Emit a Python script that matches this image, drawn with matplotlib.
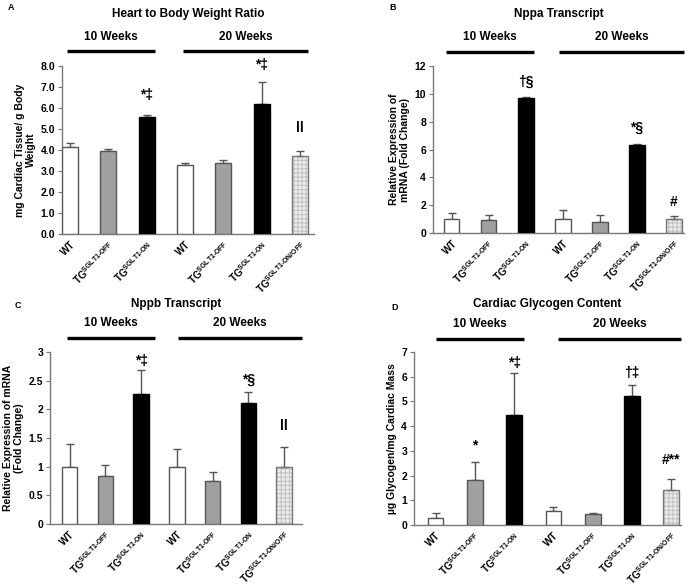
import matplotlib
matplotlib.use("Agg")
import matplotlib.pyplot as plt
import matplotlib.transforms as mtransforms
from matplotlib.ticker import FixedLocator, FixedFormatter

plt.rcParams['font.family'] = ['Liberation Sans', 'DejaVu Sans']
plt.rcParams['font.weight'] = 'bold'
plt.rcParams['mathtext.fontset'] = 'custom'
plt.rcParams['mathtext.rm'] = 'Liberation Sans:bold'
plt.rcParams['mathtext.bf'] = 'Liberation Sans:bold'
plt.rcParams['mathtext.it'] = 'Liberation Sans:bold'
plt.rcParams['hatch.linewidth'] = 0.8

categories = ["WT", r"TG$^{\text{SGLT1-OFF}}$", r"TG$^{\text{SGLT1-ON}}$",
              "WT", r"TG$^{\text{SGLT1-OFF}}$", r"TG$^{\text{SGLT1-ON}}$",
              r"TG$^{\text{SGLT1-ON/OFF}}$"]
kinds = ["wt", "off", "on", "wt", "off", "on", "onoff"]

hw_mean = [4.16, 3.97, 5.55, 3.30, 3.40, 6.20, 3.73]
hw_err = [0.15, 0.10, 0.13, 0.10, 0.10, 1.04, 0.23]
nppa_mean = [1.03, 0.90, 9.70, 1.03, 0.80, 6.32, 1.03]
nppa_err = [0.40, 0.40, 0.08, 0.60, 0.47, 0.05, 0.16]
nppb_mean = [1.00, 0.84, 2.27, 1.00, 0.75, 2.11, 1.00]
nppb_err = [0.40, 0.19, 0.41, 0.30, 0.16, 0.19, 0.34]
gly_mean = [0.27, 1.83, 4.47, 0.58, 0.43, 5.21, 1.42]
gly_err = [0.21, 0.72, 1.69, 0.16, 0.04, 0.45, 0.46]

hw_ann = ["", "", "*‡", "", "", "*‡", "ll"]
nppa_ann = ["", "", "†§", "", "", "*§", "#"]
nppb_ann = ["", "", "*‡", "", "", "*§", "ll"]
gly_ann = ["", "*", "*‡", "", "", "†‡", "#**"]

fill = {"wt": "white", "off": "#a0a0a0", "on": "black", "onoff": "#ececec"}
edge = "#555555"

W, H = 693, 586
fig = plt.figure(figsize=(W / 100, H / 100), dpi=100)


def px_axes(l, r, t, b):
    return fig.add_axes([l / W, 1 - b / H, (r - l) / W, (b - t) / H])


panels = [
    dict(box=(62, 314, 66, 234), xl=(-0.209, 6.365), width=0.42, mean=hw_mean, err=hw_err,
         ann=hw_ann, ann_y=[0, 0, 6.62, 0, 0, 8.05, 5.05], ylim=8,
         ticks=[0, 1, 2, 3, 4, 5, 6, 7, 8], tl=["%.1f" % v for v in range(9)],
         ylabel="mg Cardiac Tissue/ g Body\nWeight", title="Heart to Body Weight Ratio",
         letter="A", letter_xy=(8, 8),
         lines=[(-0.08, 2.22), (2.95, 6.21)], line_y=1.089, wk_y=1.173, title_y=1.31),
    dict(box=(433, 684, 66, 233), xl=(-0.51, 6.27), width=0.41, mean=nppa_mean, err=nppa_err,
         ann=nppa_ann, ann_y=[0, 0, 10.85, 0, 0, 7.54, 2.23], ylim=12,
         ticks=[0, 2, 4, 6, 8, 10, 12], tl=["0", "2", "4", "6", "8", "10", "12"],
         ylabel="Relative Expression of\nmRNA (Fold Change)", title="Nppa Transcript",
         letter="B", letter_xy=(389, 8),
         lines=[(-0.16, 2.22), (2.89, 6.27)], line_y=1.084, wk_y=1.174, title_y=1.31),
    dict(box=(50, 302, 352, 524), xl=(-0.55, 6.5), width=0.43, mean=nppb_mean, err=nppb_err,
         ann=nppb_ann, ann_y=[0, 0, 2.84, 0, 0, 2.51, 1.71], ylim=3,
         ticks=[0, 0.5, 1, 1.5, 2, 2.5, 3], tl=["0", "0.5", "1", "1.5", "2", "2.5", "3"],
         ylabel="Relative Expression of mRNA\n(Fold Change)", title="Nppb Transcript",
         letter="C", letter_xy=(15, 305),
         lines=[(-0.07, 2.39), (3.03, 6.5)], line_y=1.081, wk_y=1.169, title_y=1.279),
    dict(box=(414, 681, 352, 525), xl=(-0.55, 6.25), width=0.40, mean=gly_mean, err=gly_err,
         ann=gly_ann, ann_y=[0, 3.2, 6.56, 0, 0, 6.15, 2.63], ylim=7,
         ticks=[0, 1, 2, 3, 4, 5, 6, 7], tl=[str(v) for v in range(8)],
         ylabel="µg Glycogen/mg Cardiac Mass", title="Cardiac Glycogen Content",
         letter="D", letter_xy=(391, 308),
         lines=[(0.01, 2.25), (3.12, 6.25)], line_y=1.075, wk_y=1.162, title_y=1.277),
]

for p in panels:
    ax = px_axes(*p["box"])
    x = list(range(len(categories)))
    for i, k in enumerate(kinds):
        if k == "onoff":
            ax.bar(x[i], p["mean"][i], width=p["width"], color=fill[k], edgecolor="#c4c4c4",
                   hatch="++++", linewidth=0, zorder=2)
            ax.bar(x[i], p["mean"][i], width=p["width"], fill=False, edgecolor="#777777",
                   linewidth=1.0, zorder=3)
        else:
            ax.bar(x[i], p["mean"][i], width=p["width"], color=fill[k],
                   edgecolor=edge if k != "on" else "black", linewidth=1.0, zorder=3)
    ax.errorbar(x, p["mean"], yerr=[[0] * 7, p["err"]], fmt="none", ecolor="#555555",
                elinewidth=1.0, capsize=3, capthick=1.0, zorder=2)
    for i, a in enumerate(p["ann"]):
        if a:
            ax.text(x[i], p["ann_y"][i], a, ha="center", va="center", fontsize=10,
                    fontweight="bold", family=["Liberation Sans", "DejaVu Sans"])
    ax.set_xlim(*p["xl"])
    ax.set_ylim(0, p["ylim"])
    ax.yaxis.set_major_locator(FixedLocator(p["ticks"]))
    ax.yaxis.set_major_formatter(FixedFormatter(p["tl"]))
    ax.set_xticks(x)
    ax.set_xticklabels(categories, rotation=45, ha="right", rotation_mode="anchor",
                       fontsize=7.1, fontweight="bold")
    ax.tick_params(axis="x", length=0, pad=4)
    ax.tick_params(axis="y", length=3, width=0.8, color="#777777", labelsize=7.5, pad=2)
    for s in ["top", "right"]:
        ax.spines[s].set_visible(False)
    for s in ["left", "bottom"]:
        ax.spines[s].set_color("#777777")
        ax.spines[s].set_linewidth(1.0)
    ax.set_ylabel(p["ylabel"], fontsize=7.5, fontweight="bold", labelpad=3)
    trans = mtransforms.blended_transform_factory(ax.transData, ax.transAxes)
    for (a, b), lab in zip(p["lines"], ["10 Weeks", "20 Weeks"]):
        ax.plot([a, b], [p["line_y"], p["line_y"]], color="black", lw=2.4,
                transform=trans, clip_on=False, solid_capstyle="butt")
        ax.text((a + b) / 2, p["wk_y"], lab, transform=trans, ha="center", va="center",
                fontsize=8.5, fontweight="bold")
    ax.text(0.5, p["title_y"], p["title"], transform=ax.transAxes, ha="center",
            va="center", fontsize=8.5, fontweight="bold")
    fig.text(p["letter_xy"][0] / W, 1 - p["letter_xy"][1] / H, p["letter"], ha="left",
             va="center", fontsize=6.5, fontweight="bold")

fig.savefig("out.png", dpi=100)
